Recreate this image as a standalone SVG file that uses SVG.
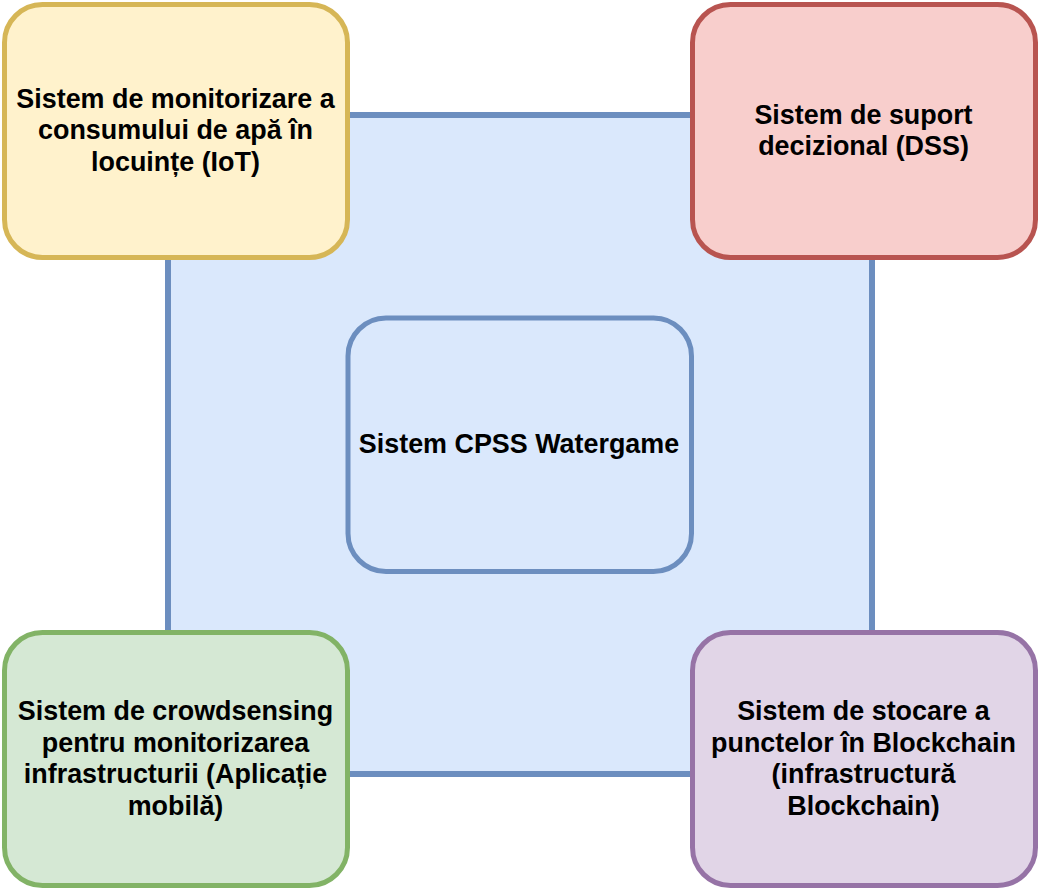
<svg xmlns="http://www.w3.org/2000/svg" width="1039" height="889" viewBox="0 0 1039 889">
<style>
.box{stroke-width:5}
.lbl{font-family:"Liberation Sans",Arial,Helvetica,sans-serif;font-weight:bold;font-size:26.9px;fill:#000;text-anchor:middle}
</style>
<rect width="1039" height="889" fill="#ffffff"/>
<g id="frame">
<rect x="168" y="115" width="704" height="659" fill="#dae8fc" stroke="#6c8ebf" stroke-width="6"/>
</g>
<g id="connectors"></g>
<g id="node-cpss">
<rect class="box" x="348" y="318" width="343.5" height="253.5" rx="38" ry="38" fill="#dae8fc" stroke="#6c8ebf"/>
<text class="lbl" x="519" y="453.3">Sistem CPSS Watergame</text>
</g>
<g id="node-iot">
<rect class="box" x="4.5" y="4.5" width="343" height="253" rx="38" ry="38" fill="#fff2cc" stroke="#d6b656"/>
<text class="lbl" x="175.5" y="107.5">Sistem de monitorizare a</text>
<text class="lbl" x="175.5" y="139">consumului de apă în</text>
<text class="lbl" x="175.5" y="170.5">locuințe (IoT)</text>
</g>
<g id="node-dss">
<rect class="box" x="692.5" y="4.5" width="343" height="253" rx="38" ry="38" fill="#f8cecc" stroke="#b85450"/>
<text class="lbl" x="863.5" y="123.5">Sistem de suport</text>
<text class="lbl" x="863.5" y="155">decizional (DSS)</text>
</g>
<g id="node-crowd">
<rect class="box" x="4.5" y="632.5" width="343" height="253" rx="38" ry="38" fill="#d5e8d4" stroke="#82b366"/>
<text class="lbl" x="175.5" y="720">Sistem de crowdsensing</text>
<text class="lbl" x="175.5" y="751.5">pentru monitorizarea</text>
<text class="lbl" x="175.5" y="783.2">infrastructurii (Aplicație</text>
<text class="lbl" x="175.5" y="815">mobilă)</text>
</g>
<g id="node-blockchain">
<rect class="box" x="692.5" y="632.5" width="343" height="253" rx="38" ry="38" fill="#e1d5e7" stroke="#9673a6"/>
<text class="lbl" x="863.5" y="720">Sistem de stocare a</text>
<text class="lbl" x="863.5" y="751.5">punctelor în Blockchain</text>
<text class="lbl" x="863.5" y="783.2">(infrastructură</text>
<text class="lbl" x="863.5" y="815">Blockchain)</text>
</g>
</svg>
